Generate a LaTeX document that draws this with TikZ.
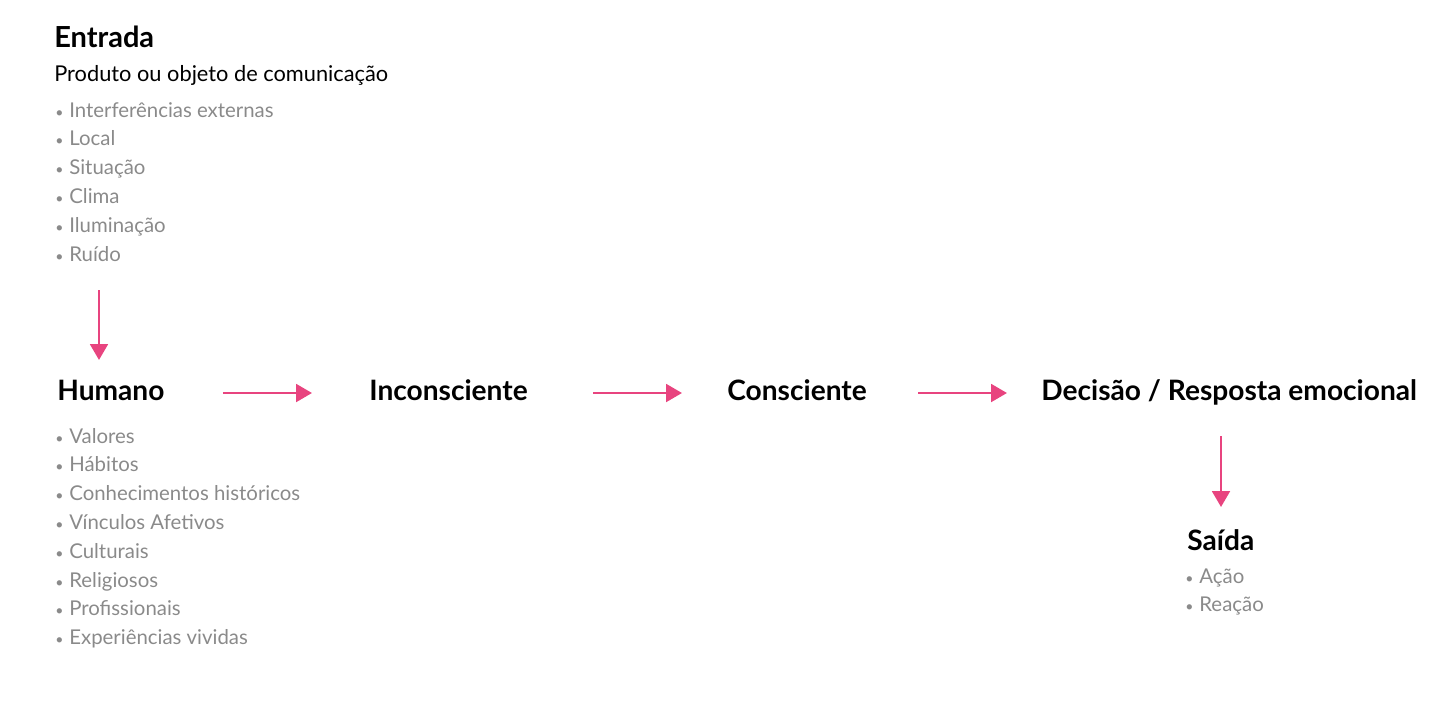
\documentclass[tikz,border=0pt]{standalone}
\usepackage{fontspec}
\setmainfont{Lato}
\usepackage{xcolor}
\usepackage{tikz}
\usetikzlibrary{arrows.meta}
\definecolor{rosa}{HTML}{E8447F}
\definecolor{cinza}{HTML}{8A8A8A}
\newcommand\bul{\makebox[0.28cm][l]{\footnotesize\textbullet}}

\begin{document}
\begin{tikzpicture}[x=0.02cm,y=-0.02cm,
  titulo/.style={font=\fontsize{16.5}{19}\selectfont\bfseries,anchor=base west,inner sep=0pt},
  etapa/.style={font=\fontsize{16}{19}\selectfont\bfseries,anchor=base west,inner sep=0pt,
    text height=0.4cm,text depth=0.12cm},
  sub/.style={font=\fontsize{12.4}{15}\selectfont,anchor=base west,inner sep=0pt},
  item/.style={font=\fontsize{11.6}{14}\selectfont,text=cinza,anchor=base west,inner sep=0pt},
  seta/.style={draw=rosa,line width=1.6pt,-{Triangle[length=9pt,width=10pt]}}]
\useasboundingbox (0,0) rectangle (1450,727);
% entrada
\node[titulo] (ent) at (54,47) {Entrada};
\node[sub] (prod) at (54,81) {Produto ou objeto de comunicação};
\foreach\t [count=\i] in {Interferências externas,Local,Situação,Clima,Iluminação,Ruído}
 \node[item] (ent\i) at (55,{88.2+28.8*\i}) {\bul\t};
% etapas
\node[etapa] (hum) at (57,400) {Humano};
\node[etapa] (inc) at (369,400) {Inconsciente};
\node[etapa] (con) at (727,400) {Consciente};
\node[etapa] (dec) at (1041,400) {Decisão / Resposta emocional};
\node[etapa] (sai) at (1187,550) {Saída};
\foreach\t [count=\i] in {Valores,Hábitos,Conhecimentos históricos,Vínculos Afetivos,Culturais,Religiosos,Profissionais,Experiências vividas}
 \node[item] (hum\i) at (55,{414.2+28.8*\i}) {\bul\t};
\foreach\t [count=\i] in {Ação,Reação}
 \node[item] (sai\i) at (1185,{554.2+28.8*\i}) {\bul\t};
% setas
\coordinate (a1) at (99,290);
\coordinate (a2) at (99,360);
\draw[seta] (a1) -- (a2);
\draw[seta,shorten <=1.16cm,shorten >=1.14cm] (hum.east) -- (inc.west);
\draw[seta,shorten <=1.3cm,shorten >=0.9cm] (inc.east) -- (con.west);
\draw[seta,shorten <=1.02cm,shorten >=0.68cm] (con.east) -- (dec.west);
\coordinate (b1) at (1221,436);
\coordinate (b2) at (1221,507);
\draw[seta] (b1) -- (b2);
\end{tikzpicture}
\end{document}
